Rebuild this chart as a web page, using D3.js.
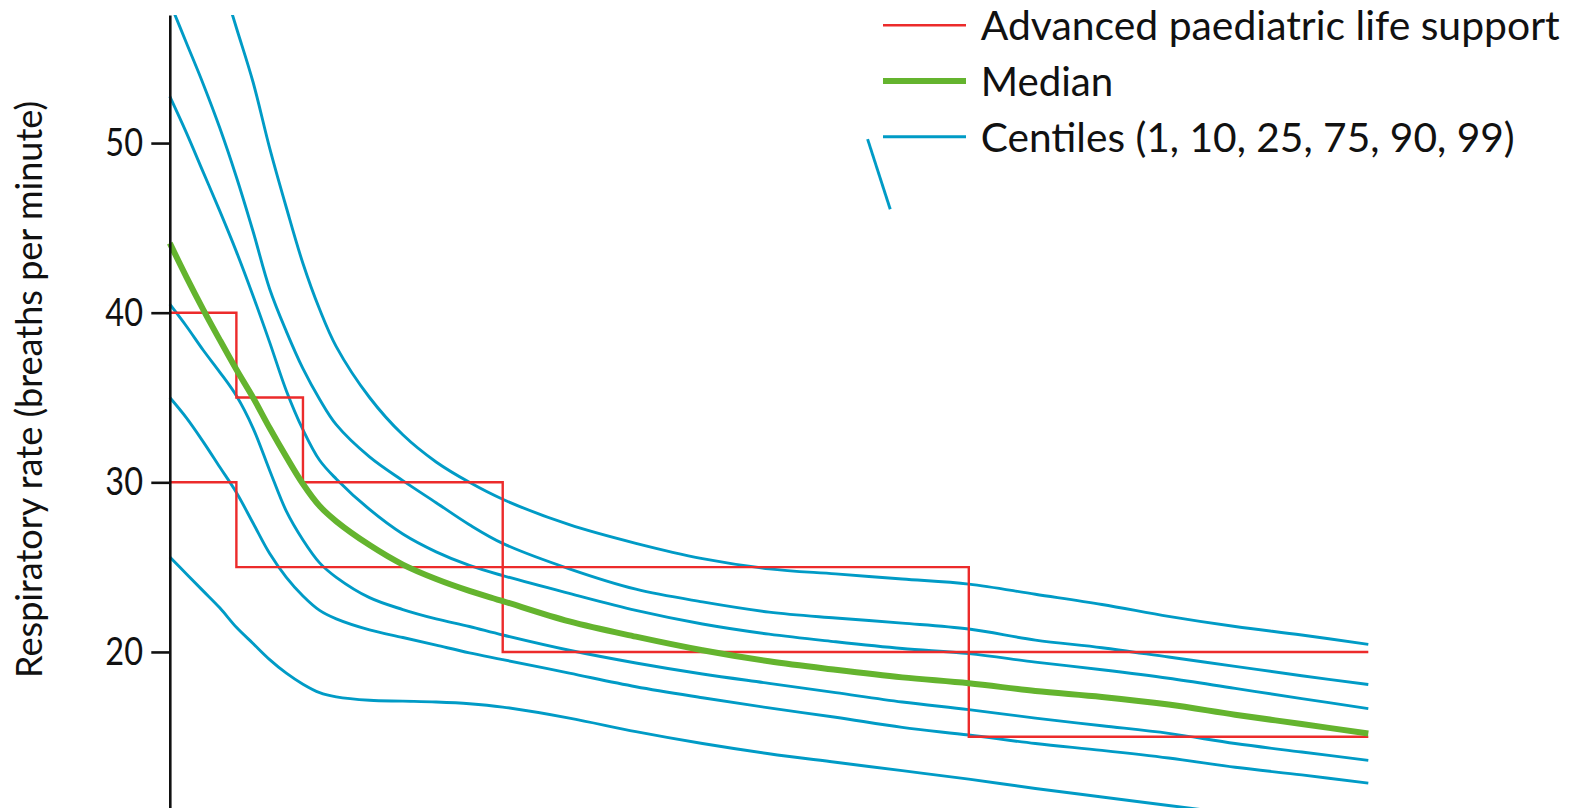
<!DOCTYPE html>
<html>
<head>
<meta charset="utf-8">
<script src="https://cdn.jsdelivr.net/npm/d3@7"></script>
<style>
  html, body { margin: 0; padding: 0; background: #ffffff; overflow: hidden; }
  svg { display: block; }
  text { font-family: Lato, "Open Sans", sans-serif; fill: #111111; }
</style>
</head>
<body>
<svg id="chart" width="1581" height="808"></svg>
<script>
// Age (years) at which each centile curve is sampled
const ages = [0, 0.25, 0.5, 0.75, 1, 1.25, 1.5, 1.75, 2, 2.25, 2.5, 3, 3.5, 4, 4.5, 5,
              6, 7, 8, 9, 10, 11, 12, 13, 14, 15, 16, 17, 18];

// Respiratory rate centiles (breaths per minute); null = not plotted
const centile99 = [null, null, null, 60.0, 56.8, 53.6, 49.7, 46.2, 42.9, 40.2, 38.0, 35.0, 32.8, 31.2, 30.0, 29.0,
                   27.5, 26.4, 25.5, 24.9, 24.6, 24.3, 24.0, 23.4, 22.8, 22.1, 21.5, 21.0, 20.45];
const centile90 = [58.3, 55.9, 53.5, 50.9, 48.0, 44.8, 41.4, 38.9, 36.7, 34.9, 33.4, 31.5, 30.1, 28.8, 27.5, 26.4,
                   24.9, 23.7, 22.95, 22.35, 22.0, 21.7, 21.35, 20.7, 20.25, 19.7, 19.15, 18.6, 18.08];
const centile75 = [52.75, 50.6, 48.3, 46.0, 43.6, 41.0, 38.25, 35.4, 33.1, 31.3, 30.2, 28.4, 26.95, 25.9, 25.1, 24.5,
                   23.45, 22.45, 21.65, 21.05, 20.6, 20.2, 19.9, 19.4, 18.95, 18.45, 17.85, 17.25, 16.66];
const median    = [44.1, 42.1, 40.2, 38.4, 36.65, 35.0, 33.2, 31.5, 29.9, 28.6, 27.7, 26.3, 25.15, 24.3, 23.6, 23.0,
                   21.8, 20.9, 20.1, 19.45, 18.95, 18.5, 18.15, 17.7, 17.35, 16.9, 16.3, 15.75, 15.19];
const centile25 = [40.5, 39.2, 37.8, 36.5, 35.1, 33.2, 30.7, 28.3, 26.6, 25.25, 24.4, 23.2, 22.5, 21.95, 21.5, 21.0,
                   20.1, 19.35, 18.7, 18.15, 17.6, 17.05, 16.6, 16.1, 15.65, 15.2, 14.6, 14.1, 13.61];
const centile10 = [35.0, 33.8, 32.4, 30.9, 29.4, 27.6, 25.8, 24.4, 23.3, 22.45, 21.95, 21.3, 20.85, 20.4, 19.95, 19.55,
                   18.75, 17.95, 17.3, 16.7, 16.15, 15.55, 15.1, 14.6, 14.2, 13.75, 13.2, 12.75, 12.27];
const centile1  = [25.6, 24.6, 23.6, 22.6, 21.45, 20.5, 19.55, 18.75, 18.1, 17.6, 17.35, 17.15, 17.1, 17.05, 16.95, 16.75,
                   16.1, 15.3, 14.6, 14.0, 13.5, 13.0, 12.5, 11.95, 11.45, 10.95, 10.45, 9.95, 9.45];

// Short stray trace segment near the legend
const strayAge  = [10.48, 10.82];
const strayRate = [50.23, 46.1];

// APLS normal-range boundaries drawn as step lines (value holds until the next age)
const aplsUpperAge  = [0, 1, 2, 5, 18];
const aplsUpperRate = [40, 35, 30, 20, 20];
const aplsLowerAge  = [0, 1, 12, 18];
const aplsLowerRate = [30, 25, 15, 15];

// Axis ticks and legend labels
const yTicks = [20, 30, 40, 50];
const yTitle = "Respiratory rate (breaths per minute)";
const legendLabels = ["Advanced paediatric life support", "Median", "Centiles (1, 10, 25, 75, 90, 99)"];

const COL_BLUE = "#009bc6";
const COL_RED = "#ec2b2b";
const COL_GREEN = "#64b42e";
const FONT = "Lato, 'Open Sans', sans-serif";

const svg = d3.select("#chart");

const x = d3.scaleLinear().domain([0, 18]).range([169.8, 1368.3]);
const y = d3.scaleLinear().domain([10.8, 57.55]).range([808, 15]);

svg.append("defs").append("clipPath").attr("id", "plotClip")
  .append("rect").attr("x", 166).attr("y", y.range()[1])
  .attr("width", 1250).attr("height", y.range()[0] - y.range()[1]);

const plot = svg.append("g").attr("clip-path", "url(#plotClip)");

const toPoints = (xs, ys) => xs.map((a, i) => ({ age: a, rate: ys[i] }));

const smoothLine = d3.line()
  .defined(d => d.rate !== null)
  .x(d => x(d.age)).y(d => y(d.rate))
  .curve(d3.curveCatmullRom.alpha(0.5));

const stepLine = d3.line()
  .x(d => x(d.age)).y(d => y(d.rate))
  .curve(d3.curveStepAfter);

// Centile curves
const centileSeries = [centile1, centile10, centile25, centile75, centile90, centile99];
plot.selectAll("path.centile")
  .data(centileSeries)
  .join("path")
  .attr("class", "centile")
  .attr("d", s => smoothLine(toPoints(ages, s)))
  .attr("fill", "none")
  .attr("stroke", COL_BLUE)
  .attr("stroke-width", 2.9);

svg.append("path")
  .attr("d", d3.line().x(d => x(d.age)).y(d => y(d.rate))(toPoints(strayAge, strayRate)))
  .attr("fill", "none")
  .attr("stroke", COL_BLUE)
  .attr("stroke-width", 2.9);

// APLS ranges
[[aplsUpperAge, aplsUpperRate], [aplsLowerAge, aplsLowerRate]].forEach(([a, r]) => {
  plot.append("path")
    .attr("d", stepLine(toPoints(a, r)))
    .attr("fill", "none")
    .attr("stroke", COL_RED)
    .attr("stroke-width", 2.4);
});

// Median
plot.append("path")
  .attr("d", smoothLine(toPoints(ages, median)))
  .attr("fill", "none")
  .attr("stroke", COL_GREEN)
  .attr("stroke-width", 6)
  .attr("stroke-linejoin", "round");

// Y axis
const yAxis = d3.axisLeft(y).tickValues(yTicks).tickSize(18.5).tickSizeOuter(0).tickPadding(8.3)
  .tickFormat(d3.format("d"));
const axisG = svg.append("g").attr("transform", `translate(${x(0)},0)`).call(yAxis);
axisG.select(".domain").attr("stroke", "#111").attr("stroke-width", 2.6);
axisG.selectAll(".tick line").attr("stroke", "#111").attr("stroke-width", 2.6);
axisG.selectAll(".tick text")
  .attr("font-family", FONT)
  .attr("font-size", 39)
  .attr("fill", "#111")
  .attr("textLength", 37.7)
  .attr("lengthAdjust", "spacingAndGlyphs");

// Y axis title
svg.append("text")
  .attr("transform", "translate(41.7,389.4) rotate(-90)")
  .attr("text-anchor", "middle")
  .attr("font-size", 37)
  .attr("textLength", 577)
  .attr("lengthAdjust", "spacingAndGlyphs")
  .text(yTitle);

// Legend
const legendItems = [
  { label: legendLabels[0], color: COL_RED, width: 2.4, ly: 25.3, ty: 39.6, len: 579 },
  { label: legendLabels[1], color: COL_GREEN, width: 6, ly: 81, ty: 95.6, len: 132.6 },
  { label: legendLabels[2], color: COL_BLUE, width: 2.9, ly: 136.7, ty: 152.3, len: 534 }
];
const legend = svg.append("g");
legend.selectAll("line")
  .data(legendItems)
  .join("line")
  .attr("x1", 883).attr("x2", 966)
  .attr("y1", d => d.ly).attr("y2", d => d.ly)
  .attr("stroke", d => d.color)
  .attr("stroke-width", d => d.width);
legend.selectAll("text")
  .data(legendItems)
  .join("text")
  .attr("x", 980.7)
  .attr("y", d => d.ty)
  .attr("font-size", 40)
  .attr("textLength", d => d.len)
  .attr("lengthAdjust", "spacingAndGlyphs")
  .text(d => d.label);
</script>
</body>
</html>
